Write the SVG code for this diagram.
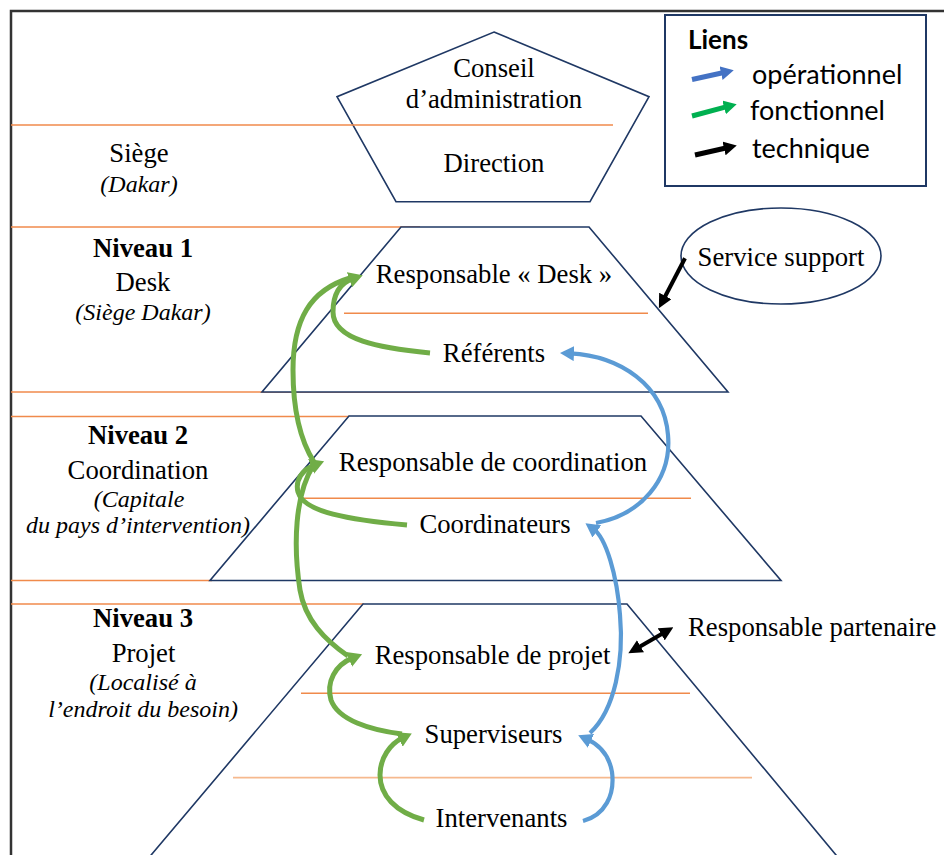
<svg xmlns="http://www.w3.org/2000/svg" width="944" height="855" viewBox="0 0 944 855">
<style>
.t{font-family:"Liberation Serif","Times New Roman",serif;font-size:26.7px;fill:#000;text-anchor:middle}
.b{font-weight:bold}
.i{font-family:"Liberation Serif","Times New Roman",serif;font-size:24px;font-style:italic;fill:#000;text-anchor:middle}
.lg{font-family:Lato,"Liberation Sans",sans-serif;font-size:27px;fill:#000}
.shape{fill:#fff;stroke:#1F3864;stroke-width:1.6}
.or{stroke:#F08A4B;stroke-width:1.5;fill:none}
.orl{stroke:#F6B98E;stroke-width:1.8;fill:none}
.g{fill:none;stroke:#70AD47;stroke-width:5}
.bl{fill:none;stroke:#5B9BD5;stroke-width:4.2}
.k{fill:none;stroke:#000;stroke-width:4}
</style>
<defs>
<marker id="mg" viewBox="0 0 14 16" refX="4" refY="8" markerWidth="14" markerHeight="16" markerUnits="userSpaceOnUse" orient="auto"><path d="M0,0 L14,8 L0,16 z" fill="#70AD47"/></marker>
<marker id="mb" viewBox="0 0 14 15" refX="4" refY="7.5" markerWidth="14" markerHeight="15" markerUnits="userSpaceOnUse" orient="auto"><path d="M0,0 L14,7.5 L0,15 z" fill="#5B9BD5"/></marker>
<marker id="mk" viewBox="0 0 14 14" refX="4" refY="7" markerWidth="14" markerHeight="14" markerUnits="userSpaceOnUse" orient="auto-start-reverse"><path d="M0,0 L14,7 L0,14 z" fill="#000"/></marker>
<marker id="lb" viewBox="0 0 13 14" refX="3" refY="7" markerWidth="13" markerHeight="14" markerUnits="userSpaceOnUse" orient="auto"><path d="M0,0 L13,7 L0,14 z" fill="#4472C4"/></marker>
<marker id="lgm" viewBox="0 0 13 14" refX="3" refY="7" markerWidth="13" markerHeight="14" markerUnits="userSpaceOnUse" orient="auto"><path d="M0,0 L13,7 L0,14 z" fill="#00B050"/></marker>
<marker id="lk" viewBox="0 0 13 14" refX="3" refY="7" markerWidth="13" markerHeight="14" markerUnits="userSpaceOnUse" orient="auto"><path d="M0,0 L13,7 L0,14 z" fill="#000"/></marker>
</defs>
<rect x="0" y="0" width="944" height="855" fill="#fff"/>
<!-- frame -->
<path d="M11,855 L11,11 L944,11" fill="none" stroke="#333" stroke-width="2.5"/>

<!-- band lines (left) -->
<g id="bands">
<line class="or" x1="11" y1="392" x2="420" y2="392"/>
<line class="or" x1="11" y1="416.5" x2="350" y2="416.5"/>
<line class="or" x1="11" y1="580.5" x2="212" y2="580.5"/>
<line class="or" x1="11" y1="604" x2="364" y2="604"/>
<line class="or" x1="11" y1="227" x2="420" y2="227"/>
</g>

<g id="pentagone">
<polygon class="shape" points="494,32 649,96.7 590,201.7 396,201.7 337,96.7" style="fill:none"/>
<text class="t" x="494" y="76.7">Conseil</text>
<text class="t" x="494" y="108.3">d’administration</text>
<text class="t" x="494" y="172.3">Direction</text>
</g>
<line class="or" x1="11" y1="125" x2="613" y2="125"/>

<g id="niveau1">
<polygon class="shape" points="401,227 589,227 728,392 262,392"/>
<line class="or" x1="344" y1="313.3" x2="648" y2="313.3"/>
<text class="t" x="494" y="283">Responsable « Desk »</text>
<text class="t" x="494" y="362">Référents</text>
</g>

<g id="niveau2">
<polygon class="shape" points="349,416 641,416 781,580.5 210,580.5"/>
<line class="or" x1="303" y1="498.3" x2="691" y2="498.3"/>
<text class="t" x="493" y="471">Responsable de coordination</text>
<text class="t" x="495" y="533">Coordinateurs</text>
</g>

<g id="niveau3">
<polygon class="shape" points="363,604 627,604 846,867 141,867"/>
<line class="or" x1="301" y1="693.3" x2="690" y2="693.3"/>
<line class="orl" x1="233" y1="777.7" x2="752" y2="777.7"/>
<text class="t" x="492.5" y="664">Responsable de projet</text>
<text class="t" x="493.5" y="743">Superviseurs</text>
<text class="t" x="501.5" y="827">Intervenants</text>
</g>

<g id="label-siege">
<text class="t" x="139" y="161.7">Siège</text>
<text class="i" x="139" y="191.7">(Dakar)</text>
</g>
<g id="label-niveau1">
<text class="t b" x="143" y="256.7">Niveau 1</text>
<text class="t" x="143" y="291">Desk</text>
<text class="i" x="143" y="320">(Siège Dakar)</text>
</g>
<g id="label-niveau2">
<text class="t b" x="138" y="444">Niveau 2</text>
<text class="t" x="138" y="479">Coordination</text>
<text class="i" x="139" y="507">(Capitale</text>
<text class="i" x="138" y="533">du pays d’intervention)</text>
</g>
<g id="label-niveau3">
<text class="t b" x="143" y="627">Niveau 3</text>
<text class="t" x="143.5" y="662">Projet</text>
<text class="i" x="143" y="690">(Localisé à</text>
<text class="i" x="143" y="717">l’endroit du besoin)</text>
</g>

<g id="service-support">
<ellipse cx="781" cy="256" rx="100" ry="48" fill="#fff" stroke="#1F3864" stroke-width="1.6"/>
<text class="t" x="781" y="266">Service support</text>
</g>

<g id="responsable-partenaire">
<text class="t" x="688" y="636" style="text-anchor:start">Responsable partenaire</text>
</g>

<g id="legende">
<rect x="665" y="15" width="261" height="171" fill="#fff" stroke="#1F3864" stroke-width="2"/>
<text class="lg" x="688" y="49" style="font-weight:bold;font-size:26px">Liens</text>
<line x1="692" y1="79.5" x2="724" y2="72.5" stroke="#4472C4" stroke-width="5" marker-end="url(#lb)"/>
<text class="lg" x="752" y="84">opérationnel</text>
<line x1="692" y1="116" x2="727" y2="106.7" stroke="#00B050" stroke-width="5" marker-end="url(#lgm)"/>
<text class="lg" x="750" y="120">fonctionnel</text>
<line x1="695" y1="155" x2="727" y2="147.8" stroke="#000" stroke-width="5" marker-end="url(#lk)"/>
<text class="lg" x="752" y="158">technique</text>
</g>

<g id="connecteurs">
<!-- green -->
<path class="g" d="M314,462 C300,440 293,410 293,370 C293,320 310,290 350,278"/>
<path class="g" d="M430,353 C380,348 333,340 333,312 C333,295 340,283 353.3,278.4" marker-end="url(#mg)"/>
<path class="g" d="M348,656 C325,640 305,620 300,590 C293,545 295,495 313,466"/>
<path class="g" d="M407,525 C350,520 303,512 298,492 C295,480 302,470 314.8,464.9" marker-end="url(#mg)"/>
<path class="g" d="M402,734 C370,730 338,720 331,700 C326,682 335,665 352.8,657.9" marker-end="url(#mg)"/>
<path class="g" d="M424,820 C395,812 380,795 380,775 C380,758 390,744 402.8,737.8" marker-end="url(#mg)"/>
<!-- blue -->
<path class="bl" d="M596,523 C640,515 672,480 668,435 C664,385 620,356 570,353.4" marker-end="url(#mb)"/>
<path class="bl" d="M590,733 C615,710 624,660 620,615 C617,575 606,538 593.6,529.1" marker-end="url(#mb)"/>
<path class="bl" d="M583,821 C605,815 615,795 612,772 C609,755 600,745 587.3,739.3" marker-end="url(#mb)"/>
<!-- black -->
<line class="k" x1="685" y1="258.3" x2="663.5" y2="299.5" marker-end="url(#mk)"/>
<line class="k" x1="637" y1="648.2" x2="664.7" y2="632.3" marker-start="url(#mk)" marker-end="url(#mk)"/>
</g>
</svg>
